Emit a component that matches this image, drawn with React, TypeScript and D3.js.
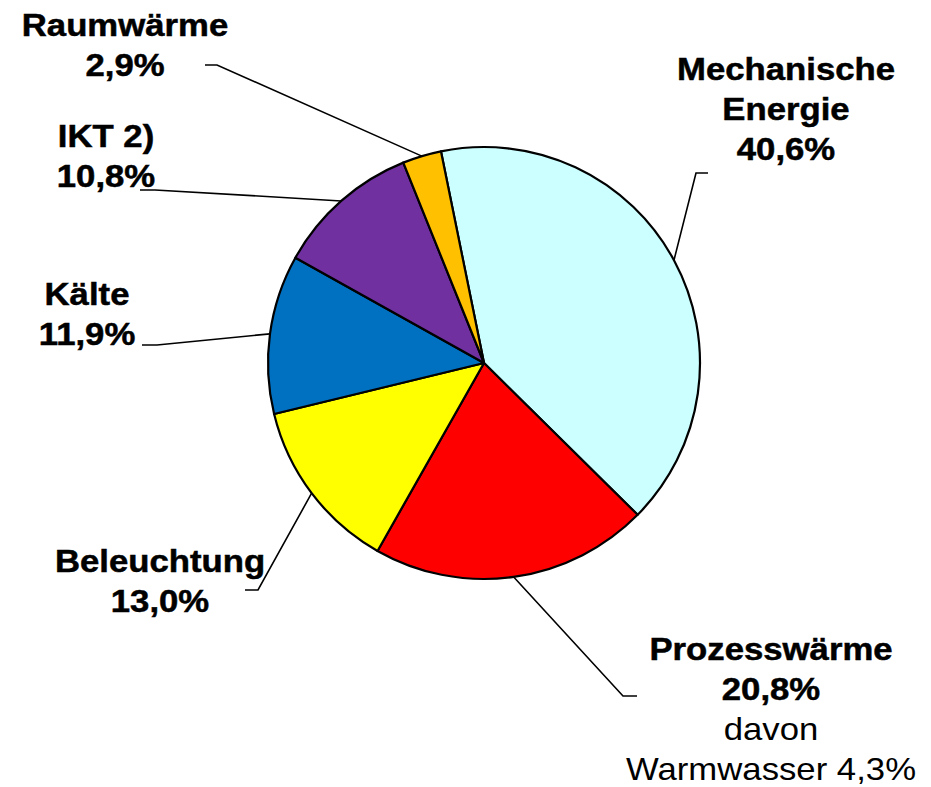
import React from "react";
import * as d3 from "d3";

const categories = ["Mechanische Energie", "Prozesswärme", "Beleuchtung", "Kälte", "IKT 2)", "Raumwärme"];
const values = [40.6, 20.8, 13.0, 11.9, 10.8, 2.9];
const colors = ["#CCFFFF", "#FF0000", "#FFFF00", "#0070C0", "#7030A0", "#FFC000"];
const labelLines = [
  ["Mechanische", "Energie", "40,6%"],
  ["Prozesswärme", "20,8%", "davon", "Warmwasser 4,3%"],
  ["Beleuchtung", "13,0%"],
  ["Kälte", "11,9%"],
  ["IKT 2)", "10,8%"],
  ["Raumwärme", "2,9%"],
];
const boldLineCount = [3, 2, 2, 2, 2, 2];

// layout
const W = 931, H = 787;
const cx = 484, cy = 363, R = 216;
const startDeg = -11.5;
const labelPos = [
  { x: 786, y: 80 },
  { x: 771, y: 660 },
  { x: 160, y: 572 },
  { x: 87, y: 305 },
  { x: 106, y: 147 },
  { x: 125, y: 36 },
];
// elbow + end of leader line (from pie edge)
const leaderPts = [
  [[696, 173], [708, 173]],
  [[623, 696], [637, 696]],
  [[258, 590], [245, 590]],
  [[157, 345], [142, 345]],
  [[155, 190], [140, 190]],
  [[217, 65], [205, 65]],
];

export default function App() {
  const pie = d3
    .pie<number>()
    .sort(null)
    .value((d) => d)
    .startAngle((startDeg * Math.PI) / 180)
    .endAngle((startDeg * Math.PI) / 180 + 2 * Math.PI);
  const arcs = pie(values);
  const arc = d3.arc<d3.PieArcDatum<number>>().innerRadius(0).outerRadius(R);
  const edge = d3.arc<d3.PieArcDatum<number>>().innerRadius(R).outerRadius(R);
  const lineGen = d3.line();

  return (
    <svg
      width={W}
      height={H}
      style={{ position: "absolute", left: 0, top: 0, background: "#fff" }}
      fontFamily="'Liberation Sans', Arial, sans-serif"
    >
      <g transform={`translate(${cx},${cy})`}>
        {arcs.map((a, i) => (
          <path key={i} d={arc(a) || ""} fill={colors[i]} stroke="#000" strokeWidth={2.2} strokeLinejoin="round" />
        ))}
      </g>
      {arcs.map((a, i) => {
        const [ex, ey] = edge.centroid(a);
        const pts: [number, number][] = [[cx + ex, cy + ey], ...(leaderPts[i] as [number, number][])];
        return <path key={"l" + i} d={lineGen(pts) || ""} fill="none" stroke="#000" strokeWidth={1.6} />;
      })}
      {labelLines.map((lines, i) => (
        <g key={"t" + i}>
          {lines.map((t, j) => {
            const bold = j < boldLineCount[i];
            return (
              <text
                key={j}
                transform={`translate(${labelPos[i].x},${labelPos[i].y + j * 40}) scale(1.12,1)`}
                textAnchor="middle"
                fontSize={31}
                fontWeight={bold ? "bold" : "normal"}
                fill="#000"
                stroke={bold ? "#000" : "none"}
                strokeWidth={bold ? 0.5 : 0}
              >
                {t}
              </text>
            );
          })}
        </g>
      ))}
    </svg>
  );
}
